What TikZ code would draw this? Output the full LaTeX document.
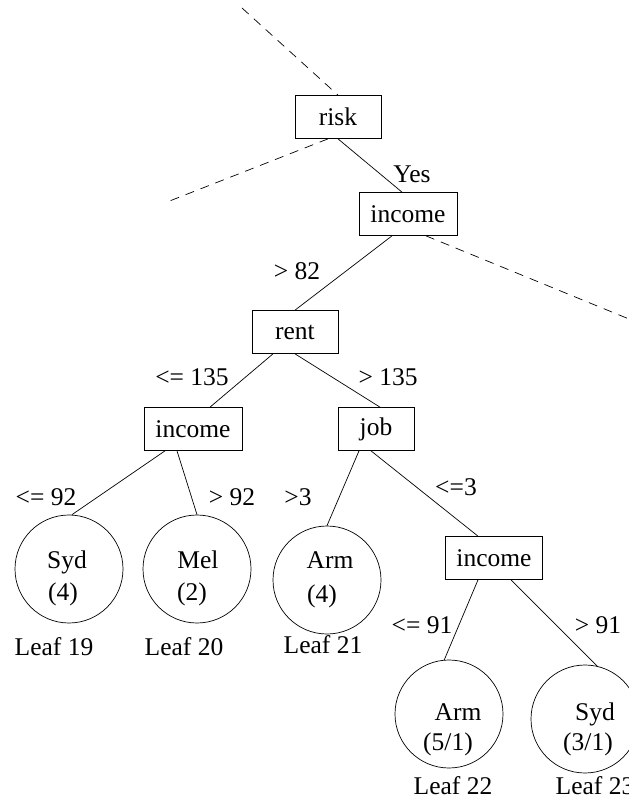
\documentclass[tikz,border=0pt]{standalone}
\usepackage{fontspec}
\setmainfont{Liberation Serif}
\usetikzlibrary{calc}

\begin{document}
\begin{tikzpicture}[x=1pt, y=-1pt, line width=.7pt,
  test/.style={draw, minimum height=43pt, inner sep=0pt, font=\fontsize{25.5}{30}\selectfont},
  leaf/.style={draw, circle, minimum size=108pt, inner sep=0pt},
  txt/.style={anchor=base, inner sep=0pt, font=\fontsize{25.5}{30}\selectfont},
  cut/.style={dash pattern=on 9pt off 7pt}]
\useasboundingbox (0,0) rectangle (629,798);

% tests
\node[test, minimum width=86pt] (risk) at (338,117) {risk};
\node[test, minimum width=98pt] (inc1) at (408,214) {income};
\node[test, minimum width=86pt] (rent) at (295,332) {rent};
\node[test, minimum width=98pt] (inc2) at (193,429) {income};
\node[test, minimum width=76pt] (job) at (376,429) {job};
\node[test, minimum width=97pt] (inc3) at (494,558) {income};

% leaves
\node[leaf] (l19) at (69,569) {};
\node[leaf] (l20) at (197,569) {};
\node[leaf] (l21) at (327,580) {};
\node[leaf] (l22) at (449,714) {};
\node[leaf] (l23) at (585,719) {};
\path
(67,568) node[txt] (c19) {Syd}   (63,600) node[txt] (n19) {(4)}   (54,655) node[txt] (t19) {Leaf 19}
(198,568) node[txt] (c20) {Mel}  (192,600) node[txt] (n20) {(2)}  (184,655) node[txt] (t20) {Leaf 20}
(330,568) node[txt] (c21) {Arm}  (322,602) node[txt] (n21) {(4)}  (323,653) node[txt] (t21) {Leaf 21}
(458,720) node[txt] (c22) {Arm}  (448,750) node[txt] (n22) {(5/1)} (453,794) node[txt] (t22) {Leaf 22}
(595,720) node[txt] (c23) {Syd}  (588,750) node[txt] (n23) {(3/1)} (595,794) node[txt] (t23) {Leaf 23};

% branch labels
\path
(412,182) node[txt] (yes) {Yes}
(297,279) node[txt] (g82) {> 82}
(192,385) node[txt] (le135) {<= 135}
(388,385) node[txt] (g135) {> 135}
(46,505) node[txt] (le92) {<= 92}
(232,505) node[txt] (g92) {> 92}
(298,505) node[txt] (g3) {>3}
(456,495) node[txt] (le3) {<=3}
(422,633) node[txt] (le91) {<= 91}
(598,633) node[txt] (g91) {> 91};

% rest of the tree, cut off
\coordinate (up) at (242,8);
\coordinate (no) at (167,202);
\coordinate (lo) at (629,319);
\draw[cut] (up) -- (risk.north);
\draw[cut] ([xshift=-10pt]risk.south) -- (no);
\draw[cut] ([xshift=18pt]inc1.south) -- (lo);

% branches
\draw (risk.south) -- ([xshift=-6pt]inc1.north);
\draw ([xshift=-16pt]inc1.south) -- (rent.north);
\draw ([xshift=-22pt]rent.south) -- ([xshift=17pt]inc2.north);
\draw (rent.south) -- ([xshift=4pt]job.north);
\draw ([xshift=-28pt]inc2.south) -- (l19.87);
\draw ([xshift=-16pt]inc2.south) -- (l20.north);
\draw ([xshift=-17pt]job.south) -- (l21.north);
\draw ([xshift=-5pt]job.south) -- ([xshift=-16pt]inc3.north);
\draw ([xshift=-16pt]inc3.south) -- (l22.95);
\draw ([xshift=17pt]inc3.south) -- (l23.77);
\end{tikzpicture}
\end{document}
